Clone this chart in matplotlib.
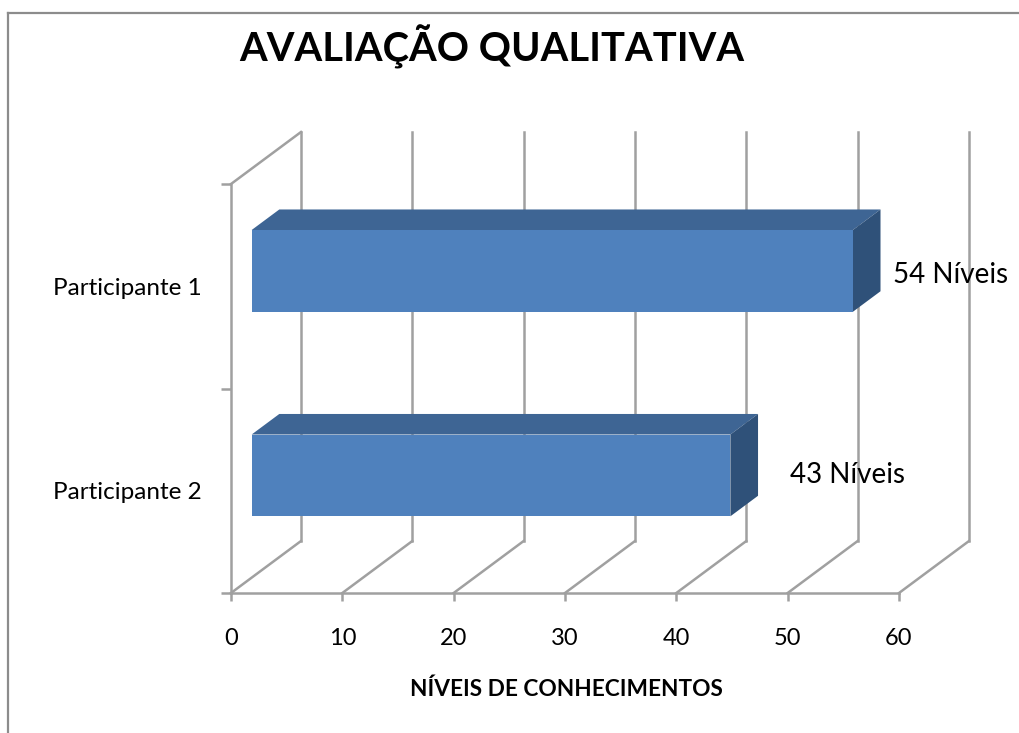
import matplotlib
matplotlib.use("Agg")
import matplotlib.pyplot as plt
from matplotlib.patches import Polygon
from matplotlib.lines import Line2D

categories = ["Participante 1", "Participante 2"]
values = [54, 43]
value_labels = ["54 Níveis", "43 Níveis"]
x_ticks = [0, 10, 20, 30, 40, 50, 60]
title = "AVALIAÇÃO QUALITATIVA"
x_title = "NÍVEIS DE CONHECIMENTOS"

W, H = 1020, 733
plt.rcParams["font.family"] = ["Lato", "DejaVu Sans"]
fig = plt.figure(figsize=(W / 100, H / 100), dpi=100)
L, R, T, B = 231, 899, 184, 593
ax = fig.add_axes([L / W, 1 - B / H, (R - L) / W, (B - T) / H])
ax.set_xlim(0, 60)
ax.set_ylim(0, 2)
ax.patch.set_alpha(0)

GRID = "#a0a0a0"
LW = 1.8
DX = 70 / (R - L) * 60      # wall depth in x units
DY = 52 / (B - T) * 2       # wall depth in y units
F0, F1 = 0.295, 0.69        # bar depth span as a fraction of the wall depth
BAR_H = 0.40

# Spines and ticks
for s in ("top", "right"):
    ax.spines[s].set_visible(False)
for s in ("left", "bottom"):
    ax.spines[s].set_color(GRID)
    ax.spines[s].set_linewidth(LW)
ax.set_xticks(x_ticks)
ax.set_yticks([0, 1, 2])
ax.set_yticklabels([])
ax.tick_params(axis="x", length=6, width=LW, color=GRID, labelsize=17, pad=19)
ax.tick_params(axis="y", length=7, width=LW, color=GRID)
ypos = [1.5 - i for i in range(len(categories))]
ax.set_yticks(ypos, minor=True)
ax.set_yticklabels(categories, minor=True)
ax.tick_params(axis="y", which="minor", length=0, labelsize=17.5, pad=21)
for lab in ax.get_yticklabels(minor=True):
    lab.set_y(lab.get_position()[1])

# Back wall grid and floor / side diagonals
for v in x_ticks:
    ax.add_line(Line2D([v, v + DX], [0, DY], color=GRID, lw=LW, clip_on=False, zorder=1))
    ax.add_line(Line2D([v + DX, v + DX], [DY, 2 + DY], color=GRID, lw=LW, clip_on=False, zorder=1))
ax.add_line(Line2D([0, DX], [2, 2 + DY], color=GRID, lw=LW, clip_on=False, zorder=1))

# 3-D bars
for y, v in zip(ypos, values):
    x0f, x1f = F0 * DX, v + F0 * DX
    yb, yt = y - BAR_H / 2 + F0 * DY, y + BAR_H / 2 + F0 * DY
    ddx, ddy = (F1 - F0) * DX, (F1 - F0) * DY
    ax.add_patch(Polygon([(x0f, yt), (x1f, yt), (x1f + ddx, yt + ddy), (x0f + ddx, yt + ddy)],
                         fc="#3e6594", ec="none", clip_on=False, zorder=3))
    ax.add_patch(Polygon([(x1f, yb), (x1f + ddx, yb + ddy), (x1f + ddx, yt + ddy), (x1f, yt)],
                         fc="#2f5179", ec="none", clip_on=False, zorder=3))
    ax.add_patch(Polygon([(x0f, yb), (x1f, yb), (x1f, yt), (x0f, yt)],
                         fc="#4f81bd", ec="none", clip_on=False, zorder=4))

# Value labels (placed as in the source chart, beside each bar's side face)
ax.text(values[0] + 5.5, ypos[0] + 0.055, value_labels[0], fontsize=20, va="center", ha="left", zorder=5)
ax.text(values[1] + 7.2, ypos[1] + 0.075, value_labels[1], fontsize=20, va="center", ha="left", zorder=5)

# Text outside the plot
fig.text(492 / W, 1 - 47 / H, title, fontsize=28.7, fontweight="bold", ha="center", va="center")
fig.text(566 / W, 1 - 689 / H, x_title, fontsize=16.3, fontweight="bold", ha="center", va="center")

# Chart area frame (only top and left edges are in view)
FRAME = "#8c8c8c"
fig.add_artist(Line2D([8.5 / W, 8.5 / W], [0, 1 - 12.5 / H], color=FRAME, lw=1.6))
fig.add_artist(Line2D([8.5 / W, 1], [1 - 12.5 / H, 1 - 12.5 / H], color=FRAME, lw=1.6))

fig.savefig("out.png", dpi=100, facecolor="white")
